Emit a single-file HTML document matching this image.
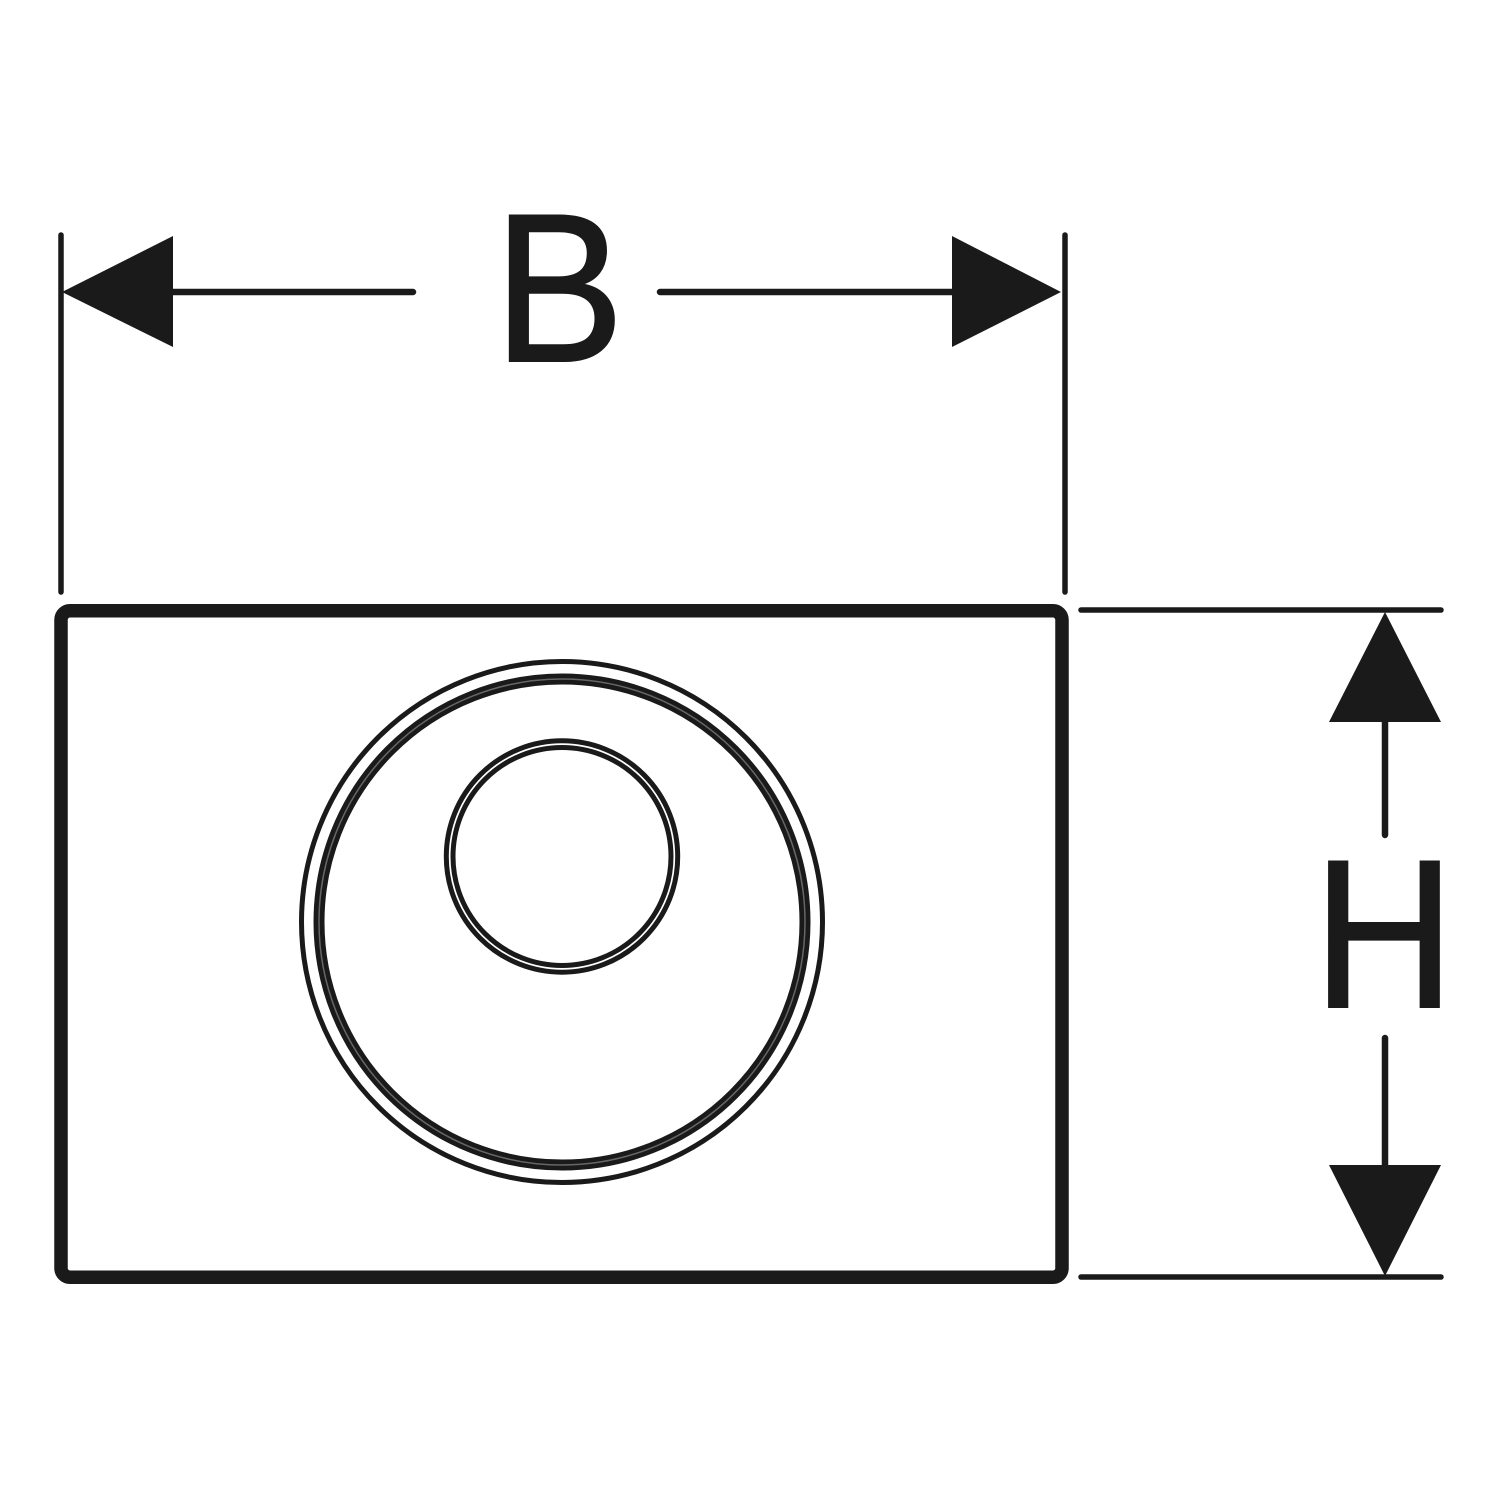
<!DOCTYPE html>
<html>
<head>
<meta charset="utf-8">
<style>
html,body{margin:0;padding:0;background:#fff}
svg{display:block}
text{font-family:"Liberation Sans",Arial,sans-serif;font-size:211.5px;fill:#1a1a1a;stroke:#1a1a1a;stroke-width:2px}
</style>
</head>
<body>
<svg width="1500" height="1500" viewBox="0 0 1500 1500" xmlns="http://www.w3.org/2000/svg">
<rect width="1500" height="1500" fill="#fff"/>
<g fill="none" stroke="#1a1a1a" stroke-linecap="round">
<rect x="61" y="610.8" width="1001" height="666.4" rx="9" stroke-width="13.5"/>
<path d="M61 235V592M1065 235V592" stroke-width="5.5"/>
<path d="M1081 610H1441M1081 1277H1441" stroke-width="5.5"/>
<path d="M173 292H413M660 292H952" stroke-width="6.5"/>
<path d="M1385 722V835M1385 1038V1165" stroke-width="6.5"/>
<circle cx="562" cy="922" r="260.5" stroke-width="5"/>
<circle cx="562" cy="922" r="243" stroke-width="11"/>
<circle cx="562" cy="922" r="243" stroke="#666" stroke-width="1.5"/>
<circle cx="562" cy="856.5" r="115.7" stroke-width="5"/>
<circle cx="562" cy="856.5" r="109" stroke-width="5"/>
</g>
<g fill="#1a1a1a">
<polygon points="62,292 173,236 173,347"/>
<polygon points="1061,292 952,236 952,347"/>
<polygon points="1385,612 1329,722 1441,722"/>
<polygon points="1385,1276 1329,1165 1441,1165"/>
</g>
<text transform="translate(493.7 361) scale(.925 1)">B</text>
<text transform="translate(1312.9 1007) scale(.93 1)">H</text>
</svg>
</body>
</html>
